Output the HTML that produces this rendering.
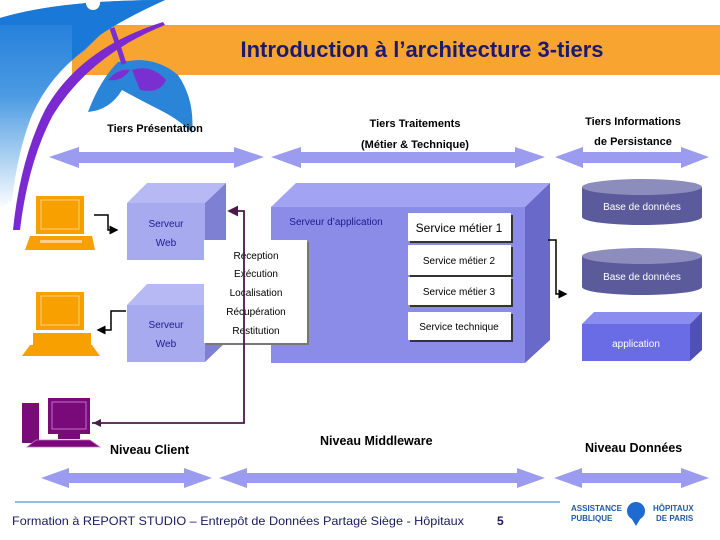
<!DOCTYPE html>
<html><head><meta charset="utf-8"><style>
html,body{margin:0;padding:0;background:#fff;width:720px;height:540px;overflow:hidden}
svg{display:block}
text{font-family:"Liberation Sans",sans-serif}
</style></head><body>
<svg width="720" height="540" viewBox="0 0 720 540">
<defs>
<marker id="ab" markerWidth="6" markerHeight="6" refX="5" refY="3" orient="auto"><path d="M0,0 L6,3 L0,6 z" fill="#000"/></marker>
<marker id="ap" markerWidth="6" markerHeight="6" refX="5" refY="3" orient="auto"><path d="M0,0 L6,3 L0,6 z" fill="#4a1a4a"/></marker>
<linearGradient id="lg" x1="0" y1="0" x2="0" y2="1"><stop offset="0" stop-color="#1a78d8"/><stop offset="0.45" stop-color="#4a9ae2"/><stop offset="1" stop-color="#ffffff"/></linearGradient>
</defs>
<!-- banner -->
<rect x="72" y="25" width="648" height="50" fill="#F7A530"/>
<!-- logo -->
<path d="M0,18 Q60,0 165,0 Q125,18 100,35 L85,50 Q50,75 32,115 Q18,150 12,200 L0,210 z" fill="url(#lg)"/>
<path d="M0,18 Q60,0 165,0 Q125,18 100,35 L72,60 L72,25 L0,25 z" fill="#1a78d8"/>
<path d="M118,62 Q100,80 88,112 Q110,110 122,90 Q140,100 160,110 Q180,120 192,133 Q195,100 178,75 Q160,60 138,60 z" fill="#2a84d8"/>
<path d="M108,80 Q118,68 130,70 Q122,82 108,80 z M132,70 Q152,64 166,80 Q160,94 140,90 z" fill="#7a30d0"/>
<path d="M112,28 Q118,45 124,64" stroke="#7a30d0" stroke-width="5" fill="none"/>
<path d="M163,22 Q80,48 45,110 Q20,160 13,230 L20,230 Q28,162 53,115 Q90,55 165,25 z" fill="#7a2ad0"/>
<circle cx="93" cy="3" r="7" fill="#fff"/>
<text x="422" y="57" font-size="22" font-weight="bold" fill="#1c1a6e" text-anchor="middle">Introduction à l’architecture 3-tiers</text>
<!-- tier labels -->
<g font-size="11" font-weight="bold" fill="#000" text-anchor="middle">
<text x="155" y="132">Tiers Présentation</text>
<text x="415" y="127">Tiers Traitements</text>
<text x="415" y="148">(Métier &amp; Technique)</text>
<text x="633" y="125">Tiers Informations</text>
<text x="633" y="145">de Persistance</text>
</g>
<!-- top arrows -->
<g fill="#9b9cef">
<path d="M49,157 L79,147 L79,152 L234,152 L234,147 L264,157 L234,168 L234,163 L79,163 L79,168 z"/>
<path d="M271,157 L301,147 L301,152 L515,152 L515,147 L545,157 L515,168 L515,163 L301,163 L301,168 z"/>
<path d="M555,157 L583,147 L583,152 L681,152 L681,147 L709,157 L681,168 L681,163 L583,163 L583,168 z"/>
</g>
<!-- bottom arrows -->
<g fill="#9b9cef">
<path d="M41,478 L69,468 L69,473 L184,473 L184,468 L212,478 L184,488 L184,483 L69,483 L69,488 z"/>
<path d="M219,478 L247,468 L247,473 L517,473 L517,468 L545,478 L517,488 L517,483 L247,483 L247,488 z"/>
<path d="M554,478 L582,468 L582,473 L681,473 L681,468 L709,478 L681,488 L681,483 L582,483 L582,488 z"/>
</g>
<!-- web server boxes -->
<path d="M127,203 L147,183 L226,183 L205,203 z" fill="#b7b9f5"/>
<path d="M205,203 L226,183 L226,240 L205,260 z" fill="#7e80d4"/>
<rect x="127" y="203" width="78" height="57" fill="#a8aaf0"/>
<path d="M127,305 L147,284 L226,284 L205,305 z" fill="#b7b9f5"/>
<path d="M205,305 L226,284 L226,342 L205,362 z" fill="#7e80d4"/>
<rect x="127" y="305" width="78" height="57" fill="#a8aaf0"/>
<g font-size="10" fill="#1c1a8e" text-anchor="middle">
<text x="166" y="227">Serveur</text><text x="166" y="246">Web</text>
<text x="166" y="328">Serveur</text><text x="166" y="347">Web</text>
</g>
<!-- app server -->
<path d="M271,207 L296,183 L550,183 L525,207 z" fill="#a2a3f2"/>
<path d="M525,207 L550,183 L550,340 L525,363 z" fill="#6869c8"/>
<rect x="271" y="207" width="254" height="156" fill="#8b8ce8"/>
<text x="336" y="225" font-size="10" fill="#1c1a8e" text-anchor="middle">Serveur d’application</text>
<!-- white panel -->
<rect x="206" y="242" width="103" height="103" fill="#777"/>
<rect x="204" y="240" width="103" height="103" fill="#fff"/>
<g font-size="10" fill="#000" text-anchor="middle">
<text x="256" y="259">Réception</text>
<text x="256" y="277">Exécution</text>
<text x="256" y="296">Localisation</text>
<text x="256" y="315">Récupération</text>
<text x="256" y="334">Restitution</text>
</g>
<!-- services -->
<rect x="410" y="215" width="103" height="28" fill="#333"/><rect x="408" y="213" width="103" height="28" fill="#fff"/>
<rect x="410" y="247" width="103" height="30" fill="#333"/><rect x="408" y="245" width="103" height="30" fill="#fff"/>
<rect x="410" y="279" width="103" height="28" fill="#333"/><rect x="408" y="277" width="103" height="28" fill="#fff"/>
<rect x="410" y="314" width="103" height="28" fill="#333"/><rect x="408" y="312" width="103" height="28" fill="#fff"/>
<g fill="#000" text-anchor="middle">
<text x="459" y="232" font-size="12">Service métier 1</text>
<text x="459" y="264" font-size="10">Service métier 2</text>
<text x="459" y="295" font-size="10">Service métier 3</text>
<text x="459" y="330" font-size="10">Service technique</text>
</g>
<!-- cylinders -->
<rect x="582" y="187" width="120" height="30" fill="#5b5b9b"/><ellipse cx="642" cy="217" rx="60" ry="8" fill="#5b5b9b"/><ellipse cx="642" cy="187" rx="60" ry="8" fill="#8d8dbd"/>
<rect x="582" y="256" width="120" height="31" fill="#5b5b9b"/><ellipse cx="642" cy="287" rx="60" ry="8" fill="#5b5b9b"/><ellipse cx="642" cy="256" rx="60" ry="8" fill="#8d8dbd"/>
<path d="M582,324 L594,312 L702,312 L690,324 z" fill="#8a8cf0"/>
<path d="M690,324 L702,312 L702,350 L690,361 z" fill="#4f50b8"/>
<rect x="582" y="324" width="108" height="37" fill="#6a6ce6"/>
<g font-size="10" fill="#fff" text-anchor="middle">
<text x="642" y="210">Base de données</text>
<text x="642" y="280">Base de données</text>
<text x="636" y="347">application</text>
</g>
<!-- connectors -->
<g stroke="#000" stroke-width="1.5" fill="none">
<path d="M94,215 L108,215 L108,230 L117,230" marker-end="url(#ab)"/>
<path d="M126,311 L111,311 L111,330 L98,330" marker-end="url(#ab)"/>
<path d="M548,240 L556,240 L556,294 L566,294" marker-end="url(#ab)"/>
</g>
<path d="M92,423 L244,423 L244,211 L229,211" stroke="#4a1a4a" stroke-width="1.8" fill="none" marker-end="url(#ap)"/>
<path d="M93,423 L101,419 L101,427 z" fill="#4a1a4a"/>
<!-- computers -->
<rect x="36" y="196" width="48" height="38" fill="#f7a000"/><rect x="41" y="200" width="38" height="29" fill="#f7a000" stroke="#ffd080" stroke-width="1"/>
<path d="M30,236 L92,236 L95,250 L25,250 z" fill="#f7a000"/><rect x="40" y="240" width="42" height="3" fill="#ffd080"/>
<rect x="36" y="292" width="48" height="38" fill="#f7a000"/><rect x="41" y="296" width="38" height="29" fill="#f7a000" stroke="#ffd080" stroke-width="1"/>
<rect x="33" y="333" width="58" height="12" fill="#f7a000"/>
<path d="M30,345 L92,345 L100,356 L22,356 z" fill="#f7a000"/>
<rect x="22" y="403" width="17" height="40" fill="#7a0a7a"/>
<rect x="48" y="398" width="42" height="36" fill="#7a0a7a"/><rect x="52" y="402" width="34" height="27" fill="#7a0a7a" stroke="#c070c0" stroke-width="1"/>
<rect x="58" y="434" width="22" height="5" fill="#7a0a7a"/>
<path d="M36,440 L90,440 L100,447 L27,447 z" fill="#7a0a7a" stroke="#c070c0" stroke-width="0.8"/>
<!-- niveau labels -->
<g font-size="12.5" font-weight="bold" fill="#000">
<text x="110" y="454">Niveau Client</text>
<text x="320" y="445">Niveau Middleware</text>
<text x="585" y="452">Niveau Données</text>
</g>
<!-- footer -->
<line x1="15" y1="502" x2="560" y2="502" stroke="#6fa8dc" stroke-width="1.5"/>
<text x="12" y="525" font-size="12" fill="#1a1a5e" textLength="452" lengthAdjust="spacingAndGlyphs">Formation à REPORT STUDIO – Entrepôt de Données Partagé Siège - Hôpitaux</text>
<text x="497" y="525" font-size="12" font-weight="bold" fill="#1a1a5e">5</text>
<g font-size="8" fill="#1e5aa8" font-weight="bold">
<text x="571" y="511">ASSISTANCE</text><text x="571" y="521">PUBLIQUE</text>
<text x="653" y="511">HÔPITAUX</text><text x="656" y="521">DE PARIS</text>
</g>
<circle cx="636" cy="511" r="9" fill="#1e6ad0"/><path d="M630,516 L636,526 L642,516 z" fill="#1e6ad0"/>
</svg>
</body></html>
